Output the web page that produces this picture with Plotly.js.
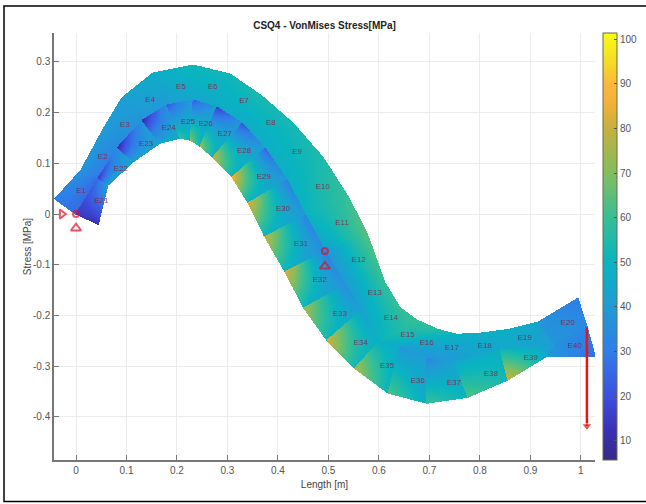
<!DOCTYPE html>
<html>
<head>
<meta charset="utf-8">
<script src="https://cdn.plot.ly/plotly-3.0.1.min.js"></script>
<style>html,body{margin:0;padding:0;background:#fff}</style>
</head>
<body>
<div id="chart" style="width:646px;height:504px"></div>
<script>
// Node coordinates: outer edge, mid line, inner edge
const topX = [-.042,.010,.053,.091,.152,.232,.305,.368,.430,.489,.539,.576,.612,.642,.675,.715,.754,.800,.859,.915,.994];
const topY = [.030,.087,.166,.229,.278,.294,.276,.233,.179,.112,.034,-.037,-.136,-.185,-.209,-.227,-.237,-.235,-.227,-.213,-.166];
const midX = [0,.044,.083,.131,.180,.232,.279,.329,.374,.418,.455,.493,.533,.566,.602,.642,.695,.750,.840,.949,1.012];
const midY = [0,.071,.132,.185,.215,.225,.211,.179,.130,.067,-.002,-.073,-.140,-.189,-.249,-.262,-.284,-.292,-.268,-.258,-.223];
const botX = [.044,.063,.113,.166,.206,.226,.246,.271,.309,.341,.374,.414,.451,.497,.552,.618,.695,.776,.855,.933,1.028];
const botY = [-.020,.057,.103,.140,.150,.146,.134,.112,.073,.022,-.045,-.114,-.185,-.249,-.304,-.353,-.373,-.361,-.327,-.280,-.280];

// Stress at the four corners of E1..E20
const upperOuterStart = [30,38,40,42,47,52,52,54,53,55,60,65,60,60,60,57,50,48,48,38];
const upperOuterEnd   = [38,40,42,47,52,52,54,53,55,60,65,60,60,60,57,50,48,48,44,30];
const upperInnerEnd   = [26,34,38,40,45,46,47,47,48,50,42,40,45,50,46,38,40,45,40,35];
const upperInnerStart = [26,28,34,38,40,45,46,46,47,48,50,38,40,45,52,42,38,42,46,38];
// Stress at the four corners of E21..E40
const lowerInnerStart = [14,14,10,10,22,22,15,20,24,30,32,30,35,42,47,38,33,46,52,36];
const lowerInnerEnd   = [26,36,38,36,40,40,38,42,40,40,36,38,42,48,46,42,44,48,42,33];
const lowerBotEnd     = [42,43,44,46,50,50,50,50,50,50,50,50,52,52,50,46,50,52,42,26];
const lowerBotStart   = [12,42,42,45,62,72,74,80,88,84,80,84,76,82,76,64,60,64,82,40];

const elementLabels = ['E1','E2','E3','E4','E5','E6','E7','E8','E9','E10','E11','E12','E13','E14','E15','E16','E17','E18','E19','E20','E21','E22','E23','E24','E25','E26','E27','E28','E29','E30','E31','E32','E33','E34','E35','E36','E37','E38','E39','E40'];
const labelX = [.010,.053,.097,.147,.208,.271,.333,.386,.438,.489,.527,.560,.592,.624,.657,.695,.745,.810,.889,.974,.050,.089,.139,.184,.222,.257,.295,.333,.372,.410,.446,.483,.523,.564,.616,.677,.749,.822,.901,.988];
const labelY = [.045,.112,.176,.225,.250,.250,.223,.179,.122,.053,-.018,-.091,-.156,-.205,-.239,-.254,-.264,-.260,-.245,-.215,.026,.089,.138,.170,.181,.178,.158,.124,.073,.010,-.059,-.130,-.197,-.254,-.300,-.329,-.333,-.316,-.284,-.260];

const supportX = [-.028,0,0,.493,.493];
const supportY = [0,0,-.028,-.073,-.103];
const supportSymbols = ['triangle-right-open','circle-open','triangle-up-open','circle-open','triangle-up-open'];
const supportSizes = [8,6,9,6,9];
const loadX = [1.012,1.012];
const loadY = [-.223,-.418];
const loadHead = [0,9];

const xRange = [-.0436,1.028];
const yRange = [-.485,.357];
const xTicks = [0,.1,.2,.3,.4,.5,.6,.7,.8,.9,1];
const yTicks = [-.4,-.3,-.2,-.1,0,.1,.2,.3];
const cbTicks = [10,20,30,40,50,60,70,80,90,100];
const zMin = 5.7, zMax = 101.4;

const colorStops = [
 [5.7,'#352a87'],[12,'#3a2fb4'],[20,'#3d50e0'],[30,'#2f7ee8'],[40,'#1f9bd6'],[50,'#08b4c0'],
 [60,'#35bf95'],[70,'#83bd5f'],[80,'#c4b03f'],[85,'#f0b038'],[90,'#fcb83a'],[95,'#f5dc25'],[101.4,'#f9fb15']
];
const colorscale = colorStops.map(s => [(s[0]-zMin)/(zMax-zMin), s[1]]);

// Shade the mesh: each quad's corner stresses are blended over the heatmap cells
const dx = 1/505, dy = 1/507;
const nx = Math.ceil((xRange[1]-xRange[0])/dx), ny = Math.ceil((yRange[1]-yRange[0])/dy);
const z = Array.from({length:ny}, () => new Array(nx).fill(null));
function shade(px, py, v){
  const n = 160;
  for(let a=0;a<=n;a++){ const s=a/n;
    for(let b=0;b<=n;b++){ const t=b/n;
      const w=[(1-s)*(1-t), s*(1-t), s*t, (1-s)*t];
      let x=0,y=0,q=0;
      for(let k=0;k<4;k++){x+=w[k]*px[k];y+=w[k]*py[k];q+=w[k]*v[k];}
      const i=Math.floor((x-xRange[0])/dx), j=Math.floor((y-yRange[0])/dy);
      if(i>=0&&i<nx&&j>=0&&j<ny) z[j][i]=q;
    }
  }
}
for(let e=0;e<20;e++){
  shade([topX[e],topX[e+1],midX[e+1],midX[e]],[topY[e],topY[e+1],midY[e+1],midY[e]],
        [upperOuterStart[e],upperOuterEnd[e],upperInnerEnd[e],upperInnerStart[e]]);
  shade([midX[e],midX[e+1],botX[e+1],botX[e]],[midY[e],midY[e+1],botY[e+1],botY[e]],
        [lowerInnerStart[e],lowerInnerEnd[e],lowerBotEnd[e],lowerBotStart[e]]);
}

const traces = [
 {type:'heatmap', z:z, x0:xRange[0]+dx/2, dx:dx, y0:yRange[0]+dy/2, dy:dy, zmin:zMin, zmax:zMax,
  colorscale:colorscale, hoverinfo:'skip', zsmooth:false,
  colorbar:{xref:'container',yref:'paper',x:603/646,xanchor:'left',xpad:0,ypad:0,y:0,yanchor:'bottom',lenmode:'fraction',len:1,thickness:14,
    tickvals:cbTicks,ticktext:cbTicks.map(String),ticks:'inside',ticklen:3,tickcolor:'#555',
    outlinecolor:'#6b6b4a',outlinewidth:1,tickfont:{family:'Liberation Sans',size:10,color:'#555'}}},
 {type:'scatter',mode:'text',x:labelX,y:labelY,text:elementLabels,hoverinfo:'skip',
  textposition:'middle center',textfont:{family:'Liberation Sans',size:8,color:'rgba(135,30,70,0.85)'}},
 {type:'scatter',mode:'markers',x:supportX,y:supportY,hoverinfo:'skip',
  marker:{symbol:supportSymbols,size:supportSizes,color:'#e0102a',line:{color:'#e0102a',width:2}}},
 {type:'scatter',mode:'lines+markers',x:loadX,y:loadY,hoverinfo:'skip',line:{color:'#ee1111',width:2.5},
  marker:{symbol:'triangle-down',size:loadHead,color:'#ee1111'}}
];

const axisCommon = {showgrid:true,gridcolor:'#ececec',gridwidth:1,zeroline:false,showline:true,linecolor:'#777',linewidth:1.5,
  ticks:'inside',ticklen:5,tickcolor:'#777',tickfont:{family:'Liberation Sans',size:10,color:'#555'}};

const layout = {
 width:646,height:504,margin:{l:54,r:51,t:33,b:44,pad:0},paper_bgcolor:'#fff',plot_bgcolor:'#fff',showlegend:false,
 title:{text:'<b>CSQ4 - VonMises Stress[MPa]</b>',x:0.5,xanchor:'center',xref:'paper',y:0.95,yanchor:'middle',
   font:{family:'Liberation Sans',size:10,color:'#222'}},
 xaxis:Object.assign({},axisCommon,{range:xRange,tickvals:xTicks,ticktext:xTicks.map(String),
   title:{text:'Length [m]',font:{family:'Liberation Sans',size:10,color:'#444'},standoff:6}}),
 yaxis:Object.assign({},axisCommon,{range:yRange,tickvals:yTicks,ticktext:yTicks.map(String),
   title:{text:'Stress [MPa]',font:{family:'Liberation Sans',size:10,color:'#444'},standoff:0}}),
 shapes:[{type:'rect',xref:'paper',yref:'paper',x0:-.0924,x1:1.2,y0:-.097,y1:1.063,line:{color:'#000',width:1.5},fillcolor:'rgba(0,0,0,0)',layer:'below'}]
};
Plotly.newPlot('chart',traces,layout,{displayModeBar:false,responsive:false});
</script>
</body>
</html>
